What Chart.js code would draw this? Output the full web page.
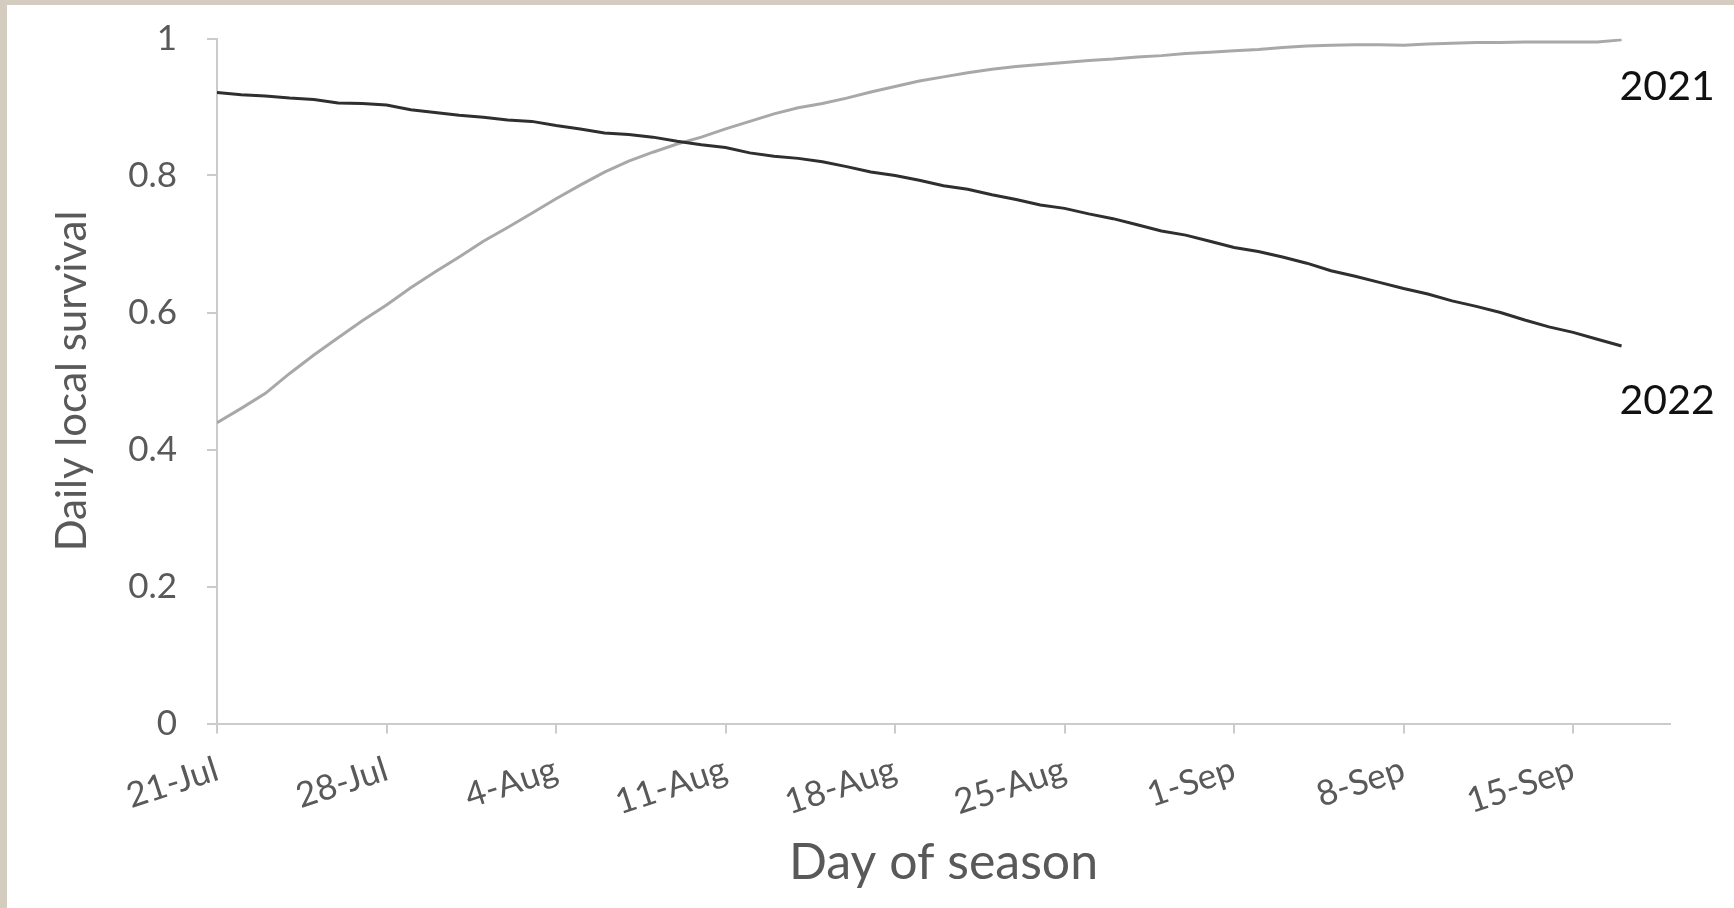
<!DOCTYPE html>
<html>
<head>
<meta charset="utf-8">
<script src="https://cdn.jsdelivr.net/npm/chart.js@4"></script>
<style>
    html, body { margin: 0; padding: 0; }
    body { background: #d4ccbe; width: 1734px; height: 908px; overflow: hidden; position: relative; }
    #frame { position: absolute; left: 7px; top: 5px; width: 1727px; height: 903px; background: #fff; }
</style>
</head>
<body>
<div id="frame"><canvas id="chart" width="1727" height="903"></canvas></div>
<script>
// x axis: days since 21-Jul, labelled once a week
const tickLabels = ['21-Jul', '28-Jul', '4-Aug', '11-Aug', '18-Aug', '25-Aug', '1-Sep', '8-Sep', '15-Sep'];
const seriesNames = ['2021', '2022'];

// daily values, 21-Jul .. 17-Sep
const survival2021 = [
    0.439, 0.460, 0.482, 0.511, 0.538, 0.563, 0.588, 0.611, 0.636, 0.659,
    0.681, 0.704, 0.724, 0.745, 0.766, 0.786, 0.805, 0.821, 0.834, 0.846,
    0.856, 0.868, 0.879, 0.890, 0.899, 0.905, 0.913, 0.922, 0.930, 0.938,
    0.944, 0.950, 0.955, 0.959, 0.962, 0.965, 0.968, 0.970, 0.973, 0.975,
    0.978, 0.980, 0.982, 0.984, 0.987, 0.989, 0.990, 0.991, 0.991, 0.990,
    0.992, 0.993, 0.994, 0.994, 0.995, 0.995, 0.995, 0.995, 0.998
];
const survival2022 = [
    0.921, 0.918, 0.916, 0.913, 0.911, 0.906, 0.905, 0.903, 0.896, 0.892,
    0.888, 0.885, 0.881, 0.879, 0.873, 0.868, 0.862, 0.860, 0.856, 0.850,
    0.845, 0.841, 0.833, 0.828, 0.825, 0.820, 0.813, 0.805, 0.800, 0.793,
    0.785, 0.780, 0.772, 0.765, 0.757, 0.752, 0.744, 0.737, 0.728, 0.719,
    0.713, 0.704, 0.695, 0.689, 0.681, 0.672, 0.661, 0.653, 0.644, 0.635,
    0.627, 0.617, 0.609, 0.600, 0.589, 0.579, 0.571, 0.561, 0.551
];

const FONT = 'Lato, "Open Sans", sans-serif';
const AXIS_GREY = '#cbcbcb';
const TEXT_GREY = '#595959';

function toPoints(values) {
    return values.map((y, day) => ({ x: day, y: y }));
}

// end-of-line year labels, like the original's text boxes
const yearLabels = {
    id: 'yearLabels',
    afterDatasetsDraw(chart) {
        const { ctx, scales } = chart;
        const anchors = [0.929, 0.471];
        const lastDay = survival2021.length - 1;
        ctx.save();
        ctx.font = '41px ' + FONT;
        ctx.fillStyle = '#111';
        ctx.textAlign = 'left';
        ctx.textBaseline = 'middle';
        seriesNames.forEach((name, i) => {
            ctx.fillText(name, scales.x.getPixelForValue(lastDay) - 2, scales.y.getPixelForValue(anchors[i]));
        });
        ctx.restore();
    }
};

new Chart(document.getElementById('chart'), {
    type: 'line',
    data: {
        datasets: [
            {
                label: seriesNames[1],
                data: toPoints(survival2022),
                borderColor: '#2f2f2f',
                borderWidth: 3,
                pointRadius: 0,
                tension: 0
            },
            {
                label: seriesNames[0],
                data: toPoints(survival2021),
                borderColor: '#a8a8a8',
                borderWidth: 3,
                pointRadius: 0,
                tension: 0
            }
        ]
    },
    options: {
        responsive: false,
        animation: false,
        devicePixelRatio: 1,
        layout: { padding: { top: 33.5, right: 64, left: 0, bottom: 0 } },
        plugins: { legend: { display: false }, tooltip: { enabled: false } },
        scales: {
            x: {
                type: 'linear',
                min: 0,
                max: 60,
                afterBuildTicks: (scale) => {
                    scale.ticks = tickLabels.map((_, i) => ({ value: i * 7 }));
                },
                afterFit: (scale) => { scale.height = 184.5; },
                grid: { drawOnChartArea: false, drawTicks: true, tickLength: 10, color: AXIS_GREY, lineWidth: 2 },
                border: { display: true, color: AXIS_GREY, width: 2 },
                ticks: {
                    autoSkip: false,
                    minRotation: 18,
                    maxRotation: 18,
                    padding: 15,
                    color: TEXT_GREY,
                    font: { family: FONT, size: 35 },
                    callback: (v) => tickLabels[Math.round(v / 7)]
                },
                title: {
                    display: true,
                    text: 'Day of season',
                    color: TEXT_GREY,
                    font: { family: FONT, size: 50 },
                    padding: { top: 0, bottom: 15 }
                }
            },
            y: {
                min: 0,
                max: 1,
                afterFit: (scale) => {
                    scale.width = 210;
                    // the label padding should not push the plot down
                    scale.paddingTop = 0;
                    scale.paddingBottom = 0;
                },
                grid: { drawOnChartArea: false, drawTicks: true, tickLength: 10, color: AXIS_GREY, lineWidth: 2 },
                border: { display: true, color: AXIS_GREY, width: 2 },
                ticks: {
                    stepSize: 0.2,
                    padding: 30,
                    color: TEXT_GREY,
                    font: { family: FONT, size: 35 },
                    callback: (v) => String(+v.toFixed(1))
                },
                title: {
                    display: true,
                    text: 'Daily local survival',
                    color: TEXT_GREY,
                    font: { family: FONT, size: 42 },
                    padding: { top: 40, bottom: 0 }
                }
            }
        }
    },
    plugins: [yearLabels]
});
</script>
</body>
</html>
